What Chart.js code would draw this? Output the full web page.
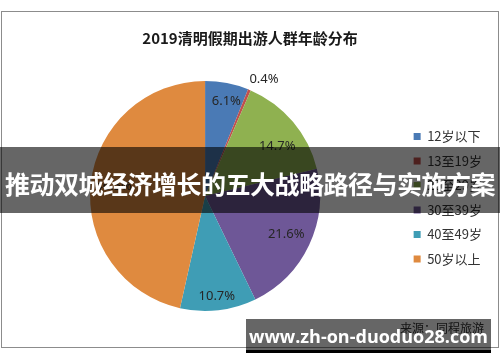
<!DOCTYPE html>
<html>
<head>
<meta charset="utf-8">
<script src="https://cdn.jsdelivr.net/npm/chart.js@4/dist/chart.umd.min.js"></script>
<style>
  body { margin: 0; width: 500px; height: 362px; background: #fff; position: relative; overflow: hidden;
         font-family: "Noto Sans CJK SC", "Noto Sans", sans-serif; }
  #box { position: absolute; left: 1px; top: 11px; width: 496px; height: 335px; border: 1px solid #8c8c8c; }
  #source { position: absolute; left: 400px; top: 319px; font-size: 12px; color: #333; }
  .banner { position: absolute; background: rgba(0,0,0,0.6); color: #fff; font-weight: bold; white-space: nowrap; }
  #mid { left: 0; top: 147px; width: 500px; height: 66px; line-height: 72px; font-size: 25px; text-align: center; letter-spacing: -0.5px; }
  #url { left: 246px; top: 319px; width: 245px; height: 31px; line-height: 34px; font-size: 18px; text-align: center;
         font-family: "Open Sans", "DejaVu Sans", sans-serif; border-bottom: 3px solid #000; }
</style>
</head>
<body>
<div id="box"><canvas id="pie" width="496" height="335"></canvas></div>
<div id="source">来源：同程旅游</div>
<div class="banner" id="mid">推动双城经济增长的五大战略路径与实施方案</div>
<div class="banner" id="url">www.zh-on-duoduo28.com</div>
<script>
const ageGroups = ["12岁以下", "13至19岁", "20至29岁", "30至39岁", "40至49岁", "50岁以上"];
const shares = [6.1, 0.4, 14.7, 21.6, 10.7, 46.5];
const sliceColors = ["#4a7ab5", "#c0504d", "#8fb150", "#6e5797", "#3f9db5", "#df8a3f"];
// where each percent label sits, as a fraction of the radius, plus a small angle nudge
const labelRadius = [0.84, 1.14, 0.76, 0.78, 0.88, 0.8];
const labelNudge = [0.03, 0.07, 0.1, 0, 0, 0];

const sliceLabels = {
  id: "sliceLabels",
  afterDatasetsDraw(chart) {
    const ctx = chart.ctx;
    const meta = chart.getDatasetMeta(0);
    ctx.save();
    ctx.font = "13px 'Noto Sans', 'Noto Sans CJK SC', sans-serif";
    ctx.fillStyle = "#262626";
    ctx.textAlign = "center";
    ctx.textBaseline = "middle";
    meta.data.forEach((arc, i) => {
      const a = (arc.startAngle + arc.endAngle) / 2 + labelNudge[i];
      const r = arc.outerRadius * labelRadius[i];
      ctx.fillText(shares[i].toFixed(1) + "%", arc.x + Math.cos(a) * r, arc.y + Math.sin(a) * r);
    });
    ctx.restore();
  }
};

new Chart(document.getElementById("pie"), {
  type: "pie",
  data: {
    labels: ageGroups,
    datasets: [{
      data: shares,
      backgroundColor: sliceColors,
      borderWidth: 0
    }]
  },
  options: {
    responsive: false,
    animation: false,
    layout: { padding: { left: 6, right: 6, bottom: 36 } },
    plugins: {
      title: {
        display: true,
        text: "2019清明假期出游人群年龄分布",
        color: "#1a1a1a",
        font: { size: 15, weight: "bold", family: "'Noto Sans CJK SC', sans-serif" },
        padding: { top: 17, bottom: 34 }
      },
      legend: {
        position: "right",
        title: { display: true, text: "", font: { size: 12 }, padding: { top: 58, bottom: 0 } },
        labels: {
          boxWidth: 7,
          boxHeight: 7,
          padding: 11.5,
          color: "#333",
          font: { size: 13, family: "'Noto Sans CJK SC', sans-serif" }
        }
      },
      tooltip: { enabled: false }
    }
  },
  plugins: [sliceLabels]
});
</script>
</body>
</html>
